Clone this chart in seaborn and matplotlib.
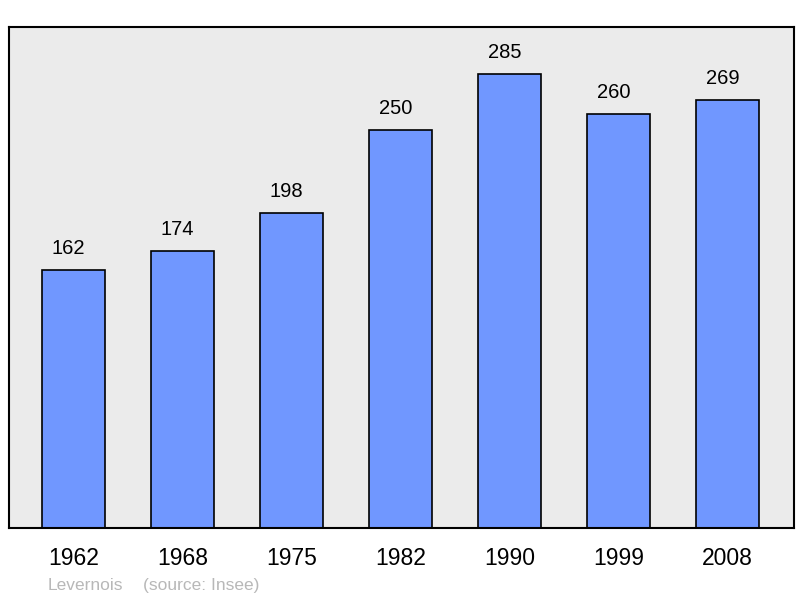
import matplotlib
matplotlib.use("Agg")
import matplotlib.pyplot as plt
import seaborn as sns
import pandas as pd

# --- data ---
years = ["1962", "1968", "1975", "1982", "1990", "1999", "2008"]
population = [162, 174, 198, 250, 285, 260, 269]
commune = "Levernois"
source_note = "(source: Insee)"

df = pd.DataFrame({"year": years, "pop": population})

sns.set_style("white")
plt.rcParams["font.family"] = ["Liberation Sans", "DejaVu Sans"]

fig = plt.figure(figsize=(8, 5.98), dpi=100)
ax = fig.add_axes([0.01125, 0.117, 0.98125, 0.8378])
ax.set_facecolor("#ebebeb")

sns.barplot(data=df, x="year", y="pop", color="#7097ff", saturation=1,
            edgecolor="black", linewidth=1.2, width=0.58, ax=ax)

# value labels sit a little left of the bar centre, as in the original
for i, v in enumerate(population):
    ax.text(i - 0.045, v + 13.2, str(v), ha="center", va="center", fontsize=14.5, color="black")

ax.set_xlim(-0.59, 6.61)
ax.set_ylim(0, 314.5)
ax.set_yticks([])
ax.set_xlabel("")
ax.set_ylabel("")
ax.tick_params(axis="x", length=0, labelsize=16.5, labelcolor="black", pad=13.5)
for s in ax.spines.values():
    s.set_visible(True)
    s.set_color("black")
    s.set_linewidth(1.5)

fig.text(48 / 800, 1 - 585.5 / 598, commune, color="#b8b8b8", fontsize=12.5, va="center")
fig.text(143 / 800, 1 - 585.5 / 598, source_note, color="#b8b8b8", fontsize=12.5, va="center")

fig.savefig("out.png", dpi=100)
